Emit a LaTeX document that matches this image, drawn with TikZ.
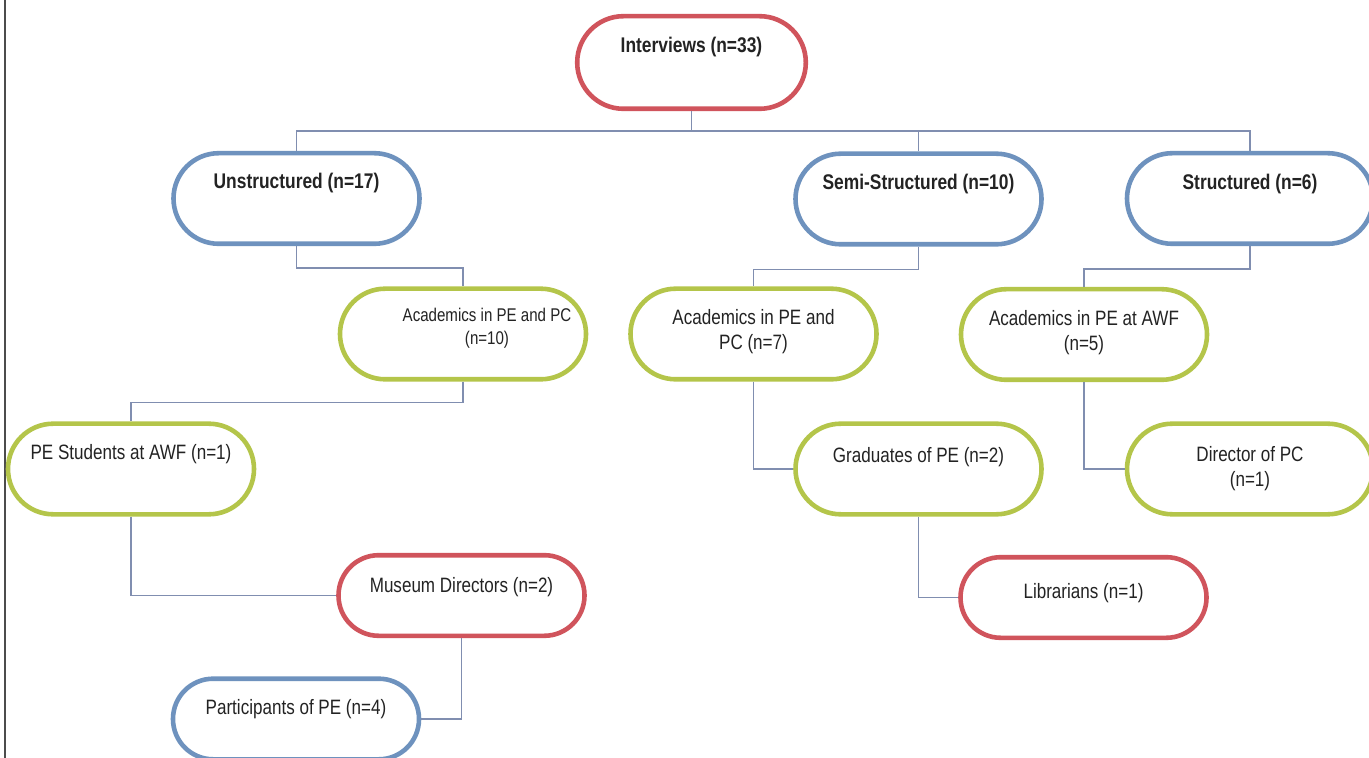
\documentclass[tikz,border=0pt]{standalone}
\usepackage{fontspec}
\setmainfont{Liberation Sans}[FakeStretch=0.82]
\usepackage{xcolor}
\usetikzlibrary{positioning}

\definecolor{pillred}{RGB}{208,84,92}
\definecolor{pillblue}{RGB}{110,146,190}
\definecolor{pillgreen}{RGB}{180,197,74}
\definecolor{linkgray}{RGB}{128,142,176}
\definecolor{inkgray}{RGB}{35,35,35}

\begin{document}
\begin{tikzpicture}[
    x=0.5pt, y=-0.5pt,
    font=\fontsize{10.4}{12.5}\selectfont,
    pill/.style={draw, line width=2.3pt, align=center, text=inkgray, fill=white,
                 minimum width=123pt, minimum height=45.3pt, rounded corners=22.6pt},
    low/.style={minimum height=40.3pt, rounded corners=20.1pt},
    head/.style={font=\fontsize{10.6}{12.5}\selectfont\bfseries},
    lift/.style={text depth=#1pt},
    redbox/.style={pill, draw=pillred},
    bluebox/.style={pill, draw=pillblue},
    greenbox/.style={pill, draw=pillgreen},
    link/.style={draw=linkgray, line width=0.6pt}
]
\clip (0,0) rectangle (1369,758);
\fill[white] (0,0) rectangle (1369,758);
\draw[line width=1.2pt, gray!60!black] (5,0) -- (5,758);

% level 0 and 1
\node[redbox, head, lift=18, minimum width=114.3pt, minimum height=46.3pt,
      rounded corners=23.1pt]              (int)   at (691.5,62.5) {Interviews (n=33)};
\node[bluebox, head, lift=17.5]            (unst)  at (296.5,198.5) {Unstructured (n=17)};
\node[bluebox, head, lift=17.5]            (semi)  at (918.5,199)   {Semi-Structured (n=10)};
\node[bluebox, head, lift=17]              (struc) at (1250,198.5)  {Structured (n=6)};

% groups
\node[greenbox, lift=8, font=\fontsize{9.2}{11.5}\selectfont]
                          (ac10) at (463,334)    {\hspace*{24pt}Academics in PE and PC\\\hspace*{24pt}(n=10)};
\node[greenbox, lift=5]   (ac7)  at (753.5,334)  {Academics in PE and\\PC (n=7)};
\node[greenbox, lift=4.5] (ac5)  at (1084,334.5) {Academics in PE at AWF\\(n=5)};
\node[greenbox, lift=17.5](pes)  at (131,469)    {PE Students at AWF (n=1)};
\node[greenbox, lift=14.5](grad) at (918.5,469)  {Graduates of PE (n=2)};
\node[greenbox]           (dir)  at (1250,469)   {Director of PC\\(n=1)};
\node[redbox, low, lift=10.5] (mus) at (461.5,595.5) {Museum Directors (n=2)};
\node[redbox, low, lift=7]    (lib) at (1083.5,597.5) {Librarians (n=1)};
\node[bluebox, low, lift=12]  (par) at (296,719)     {Participants of PE (n=4)};

\draw[link] (int.south) -- ++(0,20) -| (unst.north);
\draw[link] (int.south) -- ++(0,20) -| (semi.north);
\draw[link] (int.south) -- ++(0,20) -| (struc.north);
\draw[link] (unst.south) -- ++(0,22) -| (ac10.north);
\draw[link] (ac10.south) -- ++(0,21) -| (pes.north);
\draw[link] (pes.south) |- (mus.west);
\draw[link] (mus.south) |- (par.east);
\draw[link] (semi.south) -- ++(0,23) -| (ac7.north);
\draw[link] (ac7.south) |- (grad.west);
\draw[link] (grad.south) |- (lib.west);
\draw[link] (struc.south) -- ++(0,23) -| (ac5.north);
\draw[link] (ac5.south) |- (dir.west);
\end{tikzpicture}
\end{document}
